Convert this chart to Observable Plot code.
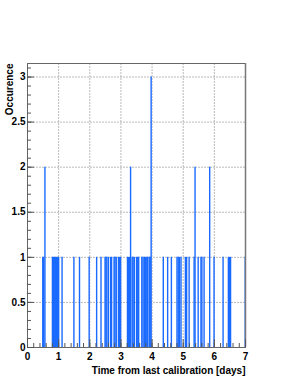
<!DOCTYPE html>
<html><head><meta charset="utf-8">
<script src="https://cdn.jsdelivr.net/npm/d3@7"></script>
<script src="https://cdn.jsdelivr.net/npm/@observablehq/plot@0.6"></script>
<style>html,body{margin:0;padding:0;background:#fff}</style>
</head><body><div id="chart"></div>
<script>
// Event times (days since last calibration) and their occurrence counts
const eventTimes = [
  0.49, 0.52, 0.56, 0.80, 0.83, 0.86, 0.90, 0.93, 0.97, 1.00,
  1.11, 1.49, 1.67, 1.98, 2.22, 2.36, 2.49, 2.52, 2.55, 2.60,
  2.67, 2.70, 2.78, 2.81, 2.85, 2.92, 2.95, 2.99, 3.21, 3.24,
  3.28, 3.31, 3.36, 3.39, 3.43, 3.50, 3.54, 3.57, 3.67, 3.71,
  3.75, 3.79, 3.83, 3.86, 3.91, 3.94, 3.97, 4.36, 4.50, 4.62,
  4.80, 4.84, 4.88, 4.93, 5.07, 5.11, 5.19, 5.35, 5.38, 5.48,
  5.57, 5.60, 5.67, 5.85, 5.99, 6.28, 6.45, 6.49, 6.52, 6.99
];
const eventCounts = [
  1, 1, 2, 1, 1, 1, 1, 1, 1, 1,
  1, 1, 1, 1, 1, 1, 1, 1, 1, 1,
  1, 1, 1, 1, 1, 1, 1, 1, 1, 1,
  1, 2, 1, 1, 1, 1, 1, 1, 1, 1,
  1, 1, 1, 1, 1, 1, 3, 1, 1, 1,
  1, 1, 1, 1, 1, 1, 1, 1, 2, 1,
  1, 1, 1, 2, 1, 1, 1, 1, 1, 1
];
const xTickLabels = [0, 1, 2, 3, 4, 5, 6, 7];
const yTickLabels = [0, 0.5, 1, 1.5, 2, 2.5, 3];
const xMinorTicks = d3.range(0, 7.001, 0.2);
const yMinorTicks = d3.range(0, 3.101, 0.1);
const xTitle = "Time from last calibration [days]";
const yTitle = "Occurence";

const events = eventTimes.map((t, i) => ({t, n: eventCounts[i]}));
const blue = "#1a6aff";
const gridStyle = {stroke: "#a8a8a8", strokeOpacity: 1, strokeWidth: 0.8, strokeDasharray: "2,1"};

const chart = Plot.plot({
  width: 295,
  height: 382,
  marginLeft: 27,
  marginRight: 50,
  marginTop: 63,
  marginBottom: 35,
  style: {fontFamily: "'Liberation Sans', Arial, Helvetica, sans-serif", fontSize: "10px", fontWeight: "bold", background: "#fff", color: "#000"},
  x: {domain: [0, 7]},
  y: {domain: [0, 3.15]},
  marks: [
    Plot.ruleX(xTickLabels.slice(1, -1), {x: d => d, ...gridStyle}),
    Plot.ruleY(yTickLabels.slice(1), {y: d => d, ...gridStyle}),
    Plot.ruleX(events, {x: "t", y1: 0, y2: "n", stroke: blue, strokeWidth: 1.4}),
    Plot.ruleY([0], {stroke: blue, strokeWidth: 1.2}),
    Plot.frame({stroke: "#666", strokeWidth: 1}),
    Plot.ruleX([7], {x: d => d, stroke: "#777", strokeWidth: 1.5}),
    Plot.axisX({ticks: xMinorTicks, tickSize: -4, tickFormat: () => "", stroke: "#555", label: null}),
    Plot.axisX({ticks: xTickLabels, tickSize: -8, tickPadding: 13, tickFormat: d => String(d), stroke: "#555", label: null}),
    Plot.axisY({ticks: yMinorTicks, tickSize: -4, tickFormat: () => "", stroke: "#555", label: null}),
    Plot.axisY({ticks: yTickLabels, tickSize: -7, tickPadding: 9, tickFormat: d => String(d), stroke: "#555", label: null}),
    Plot.text([xTitle], {frameAnchor: "bottom-right", dy: 26, textAnchor: "end", lineAnchor: "bottom", fontWeight: "bold", fontSize: 10}),
    Plot.text([yTitle], {frameAnchor: "top-left", dx: -18, rotate: -90, textAnchor: "end", lineAnchor: "middle", fontWeight: "bold", fontSize: 10})
  ]
});
document.getElementById("chart").appendChild(chart);
</script>
</body></html>
